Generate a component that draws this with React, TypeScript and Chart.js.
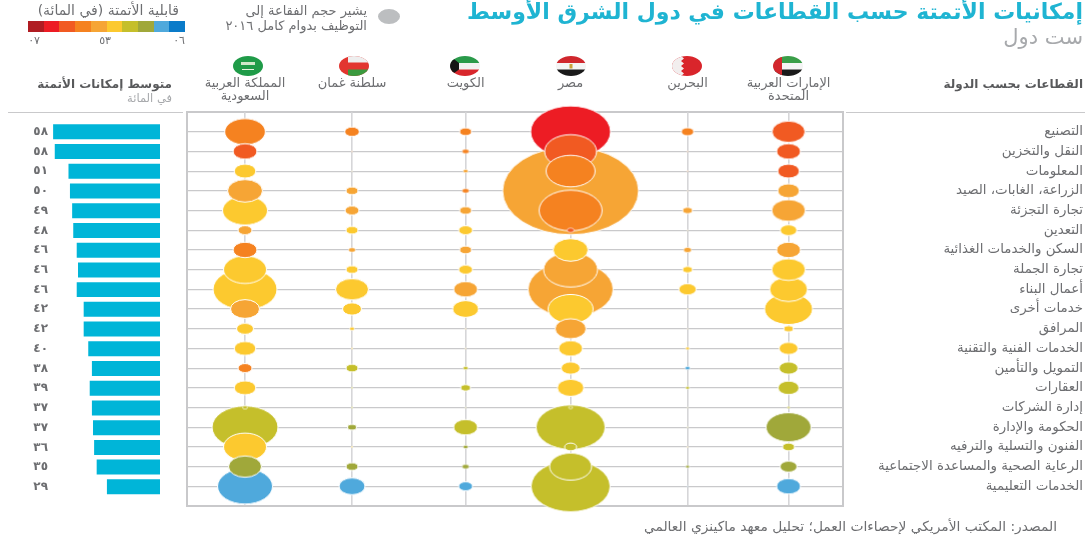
import React, { useEffect, useRef } from "react";
import { Chart, registerables } from "chart.js";

Chart.register(...registerables);

const SECTORS = [
  "التصنيع", "النقل والتخزين", "المعلومات", "الزراعة، الغابات، الصيد", "تجارة التجزئة", "التعدين",
  "السكن والخدمات الغذائية", "تجارة الجملة", "أعمال البناء", "خدمات أخرى", "المرافق",
  "الخدمات الفنية والتقنية", "التمويل والتأمين", "العقارات", "إدارة الشركات", "الحكومة والإدارة",
  "الفنون والتسلية والترفيه", "الرعاية الصحية والمساعدة الاجتماعية", "الخدمات التعليمية",
];
const COUNTRIES = ["المملكة العربية,السعودية", "سلطنة غمان", "الكويت", "مصر", "البحرين", "الإمارات العربية,المتحدة"];

// average automation potential (bars) and their printed labels
const AVERAGE = [58.4, 57.5, 50, 49.2, 48, 47.4, 45.5, 44.8, 45.5, 41.7, 41.7, 39.2, 37.2, 38.4, 37.2, 36.6, 36, 34.6, 29];
const AVERAGE_LABELS = ["٥٨", "٥٨", "٥١", "٥٠", "٤٩", "٤٨", "٤٦", "٤٦", "٤٦", "٤٢", "٤٢", "٤٠", "٣٨", "٣٩", "٣٧", "٣٧", "٣٦", "٣٥", "٢٩"];

// full-time employment 2016, thousands
const EMP_SAUDI = [582, 202, 165, 430, 712, 69, 202, 650, 1440, 296, 102, 165, 69, 165, 9, 1530, 650, 383, 1063];
const EMP_OMAN = [76, 0.8, 0.4, 51, 69, 51, 17, 51, 383, 127, 9, 1.4, 51, 1.4, 1.4, 28, 1.4, 51, 238];
const EMP_KUWAIT = [51, 17, 9, 17, 51, 69, 51, 69, 202, 238, 0.8, 0.8, 9, 35, 0.8, 202, 9, 17, 69];
const EMP_EGYPT = [2249, 950, 844, 6500, 1395, 17, 430, 1025, 2539, 712, 338, 202, 127, 247, 6, 1673, 51, 620, 2193];
const EMP_BAHRAIN = [55, 0.8, 0.8, 0.4, 35, 0.4, 22, 35, 108, 0.8, 0.4, 6, 9, 6, 0.4, 0.8, 0.8, 6, 0.4];
const EMP_UAE = [383, 202, 165, 165, 399, 98, 202, 399, 507, 810, 32, 127, 127, 155, 3, 712, 51, 102, 202];

// automation potential per cell, per cent
const POT_SAUDI = [52, 57, 42, 47, 42, 47, 52, 42, 42, 47, 42, 42, 52, 42, 37, 37, 42, 32, 27];
const POT_OMAN = [52, 52, 42, 47, 47, 42, 47, 42, 42, 42, 42, 42, 37, 37, 37, 32, 42, 32, 27];
const POT_KUWAIT = [52, 52, 47, 52, 47, 42, 47, 42, 47, 42, 42, 42, 37, 37, 37, 37, 32, 32, 27];
const POT_EGYPT = [62, 57, 52, 47, 52, 57, 42, 47, 47, 42, 47, 42, 42, 42, 37, 37, 37, 37, 37];
const POT_BAHRAIN = [52, 52, 52, 47, 47, 42, 47, 42, 42, 42, 42, 42, 27, 37, 37, 37, 42, 32, 27];
const POT_UAE = [57, 57, 57, 47, 47, 42, 47, 42, 42, 42, 42, 42, 37, 37, 37, 32, 37, 32, 27];

const EMPLOYMENT = [EMP_SAUDI, EMP_OMAN, EMP_KUWAIT, EMP_EGYPT, EMP_BAHRAIN, EMP_UAE];
const POTENTIAL = [POT_SAUDI, POT_OMAN, POT_KUWAIT, POT_EGYPT, POT_BAHRAIN, POT_UAE];

// ---- layout / style (not data) ----
const PALETTE = ["#b01c22", "#ed1c24", "#f15a22", "#f58220", "#f6a535", "#fcc92f", "#c5bf2b", "#a0a83a", "#4fa9dc", "#0a7bc9"];
const COLUMN_POS = [0, 0.984, 2.029, 2.995, 4.071, 5];
const X_MIN = -0.534;
const X_MAX = 5.501;
const RADIUS_K = 0.8435;
const ASPECT = 1.55;
const FONT = "'DejaVu Sans', sans-serif";
const GRAY = "#6d6e71";
const LINE = "#c9c9cb";

const colorFor = (p: number) => {
  if (p >= 65) return PALETTE[0];
  if (p >= 60) return PALETTE[1];
  if (p >= 55) return PALETTE[2];
  if (p >= 50) return PALETTE[3];
  if (p >= 45) return PALETTE[4];
  if (p >= 40) return PALETTE[5];
  if (p >= 35) return PALETTE[6];
  if (p >= 30) return PALETTE[7];
  if (p >= 25) return PALETTE[8];
  return PALETTE[9];
};

const sprites = new Map<string, HTMLCanvasElement>();
function sprite(employment: number, color: string) {
  const r = Math.sqrt(employment) * RADIUS_K;
  const key = r.toFixed(2) + color;
  let c = sprites.get(key);
  if (c) return c;
  c = document.createElement("canvas");
  const size = 2 * Math.ceil(r + 2);
  c.width = size;
  c.height = size;
  const g = c.getContext("2d")!;
  g.beginPath();
  g.ellipse(size / 2, size / 2, r, r / ASPECT, 0, 0, Math.PI * 2);
  g.fillStyle = color;
  g.fill();
  g.strokeStyle = "#ffffff";
  g.lineWidth = r < 4 ? 0.6 : 1;
  g.stroke();
  sprites.set(key, c);
  return c;
}

const chromePlugin = {
  id: "chrome",
  beforeDraw(chart: any) {
    const { ctx, chartArea: a } = chart;
    ctx.save();
    ctx.strokeStyle = LINE;
    ctx.lineWidth = 2;
    ctx.strokeRect(a.left, a.top, a.right - a.left, a.bottom - a.top);
    ctx.lineWidth = 1;
    ctx.beginPath();
    ctx.moveTo(8, a.top + 0.5);
    ctx.lineTo(a.left - 4, a.top + 0.5);
    ctx.moveTo(a.right + 3, a.top + 0.5);
    ctx.lineTo(1085, a.top + 0.5);
    ctx.stroke();
    ctx.restore();
  },
};

function Flag({ x, kind }: { x: number; kind: string }) {
  const id = "f" + kind;
  let body: React.ReactNode = null;
  if (kind === "sa") body = <><rect width="30" height="20" fill="#1f9b48" /><rect x="8" y="6" width="14" height="3" fill="#cfe8c9" /><rect x="9" y="13" width="12" height="1" fill="#e8f3e2" /></>;
  if (kind === "om") body = <><rect width="30" height="20" fill="#e2352f" /><rect x="9" width="21" height="6.5" fill="#eeeeee" /><rect x="9" y="13.5" width="21" height="6.5" fill="#3b9a3f" /></>;
  if (kind === "kw") body = <><rect width="30" height="7" fill="#2a9a4a" /><rect y="7" width="30" height="6.5" fill="#f2f2f2" /><rect y="13.5" width="30" height="6.5" fill="#d8262c" /><path d="M0 0L9 7V13.5L0 20Z" fill="#151515" /></>;
  if (kind === "eg") body = <><rect width="30" height="7" fill="#d0272d" /><rect y="7" width="30" height="6.5" fill="#f4f4f4" /><rect y="13.5" width="30" height="6.5" fill="#1a1a1a" /><rect x="13.5" y="8" width="3" height="4.5" fill="#c9a23a" /></>;
  if (kind === "bh") body = <><rect width="30" height="20" fill="#d9252b" /><path d="M0 0H9L12 2.5L9 5L12 7.5L9 10L12 12.5L9 15L12 17.5L9 20H0Z" fill="#f2eeee" /></>;
  if (kind === "ae") body = <><rect width="30" height="7" fill="#3a9e48" /><rect y="7" width="30" height="6.5" fill="#f4f4f4" /><rect y="13.5" width="30" height="6.5" fill="#1a1a1a" /><rect width="9" height="20" fill="#d2262c" /></>;
  return (
    <svg width="30" height="20" viewBox="0 0 30 20" style={{ position: "absolute", left: x - 15, top: 56 }}>
      <defs><clipPath id={id}><ellipse cx="15" cy="10" rx="15" ry="10" /></clipPath></defs>
      <g clipPath={`url(#${id})`}>{body}</g>
    </svg>
  );
}

const textStyle = (right: number, top: number, size: number, color: string, bold = false): React.CSSProperties => ({
  position: "absolute",
  right: 1090 - right,
  top,
  fontFamily: FONT,
  fontSize: size,
  lineHeight: `${size + 2}px`,
  color,
  fontWeight: bold ? 700 : 400,
  direction: "rtl",
  textAlign: "right",
  whiteSpace: "nowrap",
});

export default function App() {
  const barRef = useRef<HTMLCanvasElement>(null);
  const bubbleRef = useRef<HTMLCanvasElement>(null);

  useEffect(() => {
    const bar = new Chart(barRef.current!, {
      type: "bar",
      data: {
        labels: AVERAGE_LABELS.map((l, i) => `${i}|${l}`),
        datasets: [{ data: AVERAGE, backgroundColor: "#00b5d8", barPercentage: 0.76, categoryPercentage: 1 }],
      },
      options: {
        indexAxis: "y",
        responsive: false,
        animation: false,
        events: [],
        layout: { padding: { top: 122, bottom: 45.3, right: 5, left: 0 } },
        plugins: { legend: { display: false }, tooltip: { enabled: false } },
        scales: {
          x: { reverse: true, min: 0, max: 60.1, display: false },
          y: {
            position: "left",
            grid: { display: false, drawTicks: false },
            border: { display: false },
            afterFit: (s: any) => { s.width = 50; },
            ticks: {
              autoSkip: false,
              padding: 2,
              color: GRAY,
              font: { family: FONT, size: 12, weight: "bold" },
              callback: (_v: any, i: number) => AVERAGE_LABELS[i],
            },
          },
        },
      },
    } as any);

    const datasets = EMPLOYMENT.map((emp, col) => ({
      data: emp
        .map((v, row) => ({ x: COLUMN_POS[col], y: row, v, c: colorFor(POTENTIAL[col][row]) }))
        .sort((a, b) => b.v - a.v),
      clip: false,
      pointStyle: (ctx: any) => (ctx.raw ? sprite(ctx.raw.v, ctx.raw.c) : "circle"),
    }));

    const bubble = new Chart(bubbleRef.current!, {
      type: "bubble",
      data: { datasets },
      plugins: [chromePlugin],
      options: {
        responsive: false,
        animation: false,
        events: [],
        layout: { padding: { left: 187, right: 7, top: 0, bottom: 36 } },
        plugins: { legend: { display: false }, tooltip: { enabled: false } },
        scales: {
          x: {
            type: "linear",
            position: "top",
            min: X_MIN,
            max: X_MAX,
            afterFit: (s: any) => { s.height = 112; },
            afterBuildTicks: (s: any) => { s.ticks = COLUMN_POS.map((value) => ({ value })); },
            grid: { color: "#d6d6d8", lineWidth: 1.6, drawTicks: false },
            border: { display: false },
            ticks: {
              autoSkip: false,
              maxRotation: 0,
              padding: 9,
              color: GRAY,
              font: { family: FONT, size: 13, lineHeight: 1 },
              callback: (_v: any, i: number) => {
                const parts = COUNTRIES[i].split(",");
                return parts.length > 1 ? parts : [parts[0], ""];
              },
            },
          },
          y: {
            position: "right",
            reverse: true,
            min: -1,
            max: 19,
            afterFit: (s: any) => { s.width = 240; },
            grid: { color: LINE, lineWidth: 1.2, drawTicks: false },
            border: { display: false },
            ticks: {
              stepSize: 1,
              autoSkip: false,
              crossAlign: "far",
              color: GRAY,
              font: { family: FONT, size: 13.4 },
              callback: (v: any) => SECTORS[v] ?? "",
            },
          },
        },
      },
    } as any);

    return () => {
      bar.destroy();
      bubble.destroy();
    };
  }, []);

  return (
    <div style={{ position: "absolute", left: 0, top: 0, width: 1090, height: 542, overflow: "hidden", background: "#fff" }}>
      <canvas ref={barRef} width={165} height={542} style={{ position: "absolute", left: 0, top: 0 }} />
      <canvas ref={bubbleRef} width={1090} height={542} style={{ position: "absolute", left: 0, top: 0 }} />

      <div style={textStyle(1083, 0, 22, "#1fb4d2", true)}>إمكانيات الأتمتة حسب القطاعات في دول الشرق الأوسط</div>
      <div style={textStyle(1083, 26, 21, "#a7a9ac")}>ست دول</div>

      <div style={textStyle(179, 2, 14, GRAY)}>قابلية الأتمتة (في المائة)</div>
      <div style={{ position: "absolute", left: 28, top: 21, width: 157, height: 11, display: "flex" }}>
        {PALETTE.map((c) => <div key={c} style={{ flex: 1, background: c }} />)}
      </div>
      <div style={textStyle(40, 34, 11, GRAY)}>٠٧</div>
      <div style={textStyle(111, 34, 11, GRAY)}>٥٣</div>
      <div style={textStyle(185, 34, 11, GRAY)}>٠٦</div>

      <div style={{ position: "absolute", left: 378, top: 9, width: 22, height: 15, borderRadius: "50%", background: "#bcbec0" }} />
      <div style={textStyle(367, 3, 13, GRAY)}>يشير حجم الفقاعة إلى<br />التوظيف بدوام كامل ٢٠١٦</div>

      <Flag x={248} kind="sa" />
      <Flag x={354} kind="om" />
      <Flag x={465} kind="kw" />
      <Flag x={571} kind="eg" />
      <Flag x={687} kind="bh" />
      <Flag x={788} kind="ae" />

      <div style={textStyle(172, 77, 12, "#58595b", true)}>متوسط إمكانات الأتمتة</div>
      <div style={textStyle(172, 92, 11.5, "#a7a9ac")}>في المائة</div>
      <div style={textStyle(1083, 77, 12, "#58595b", true)}>القطاعات بحسب الدولة</div>
      <div style={textStyle(1057, 519, 13.8, GRAY)}>المصدر: المكتب الأمريكي لإحصاءات العمل؛ تحليل معهد ماكينزي العالمي</div>
    </div>
  );
}
